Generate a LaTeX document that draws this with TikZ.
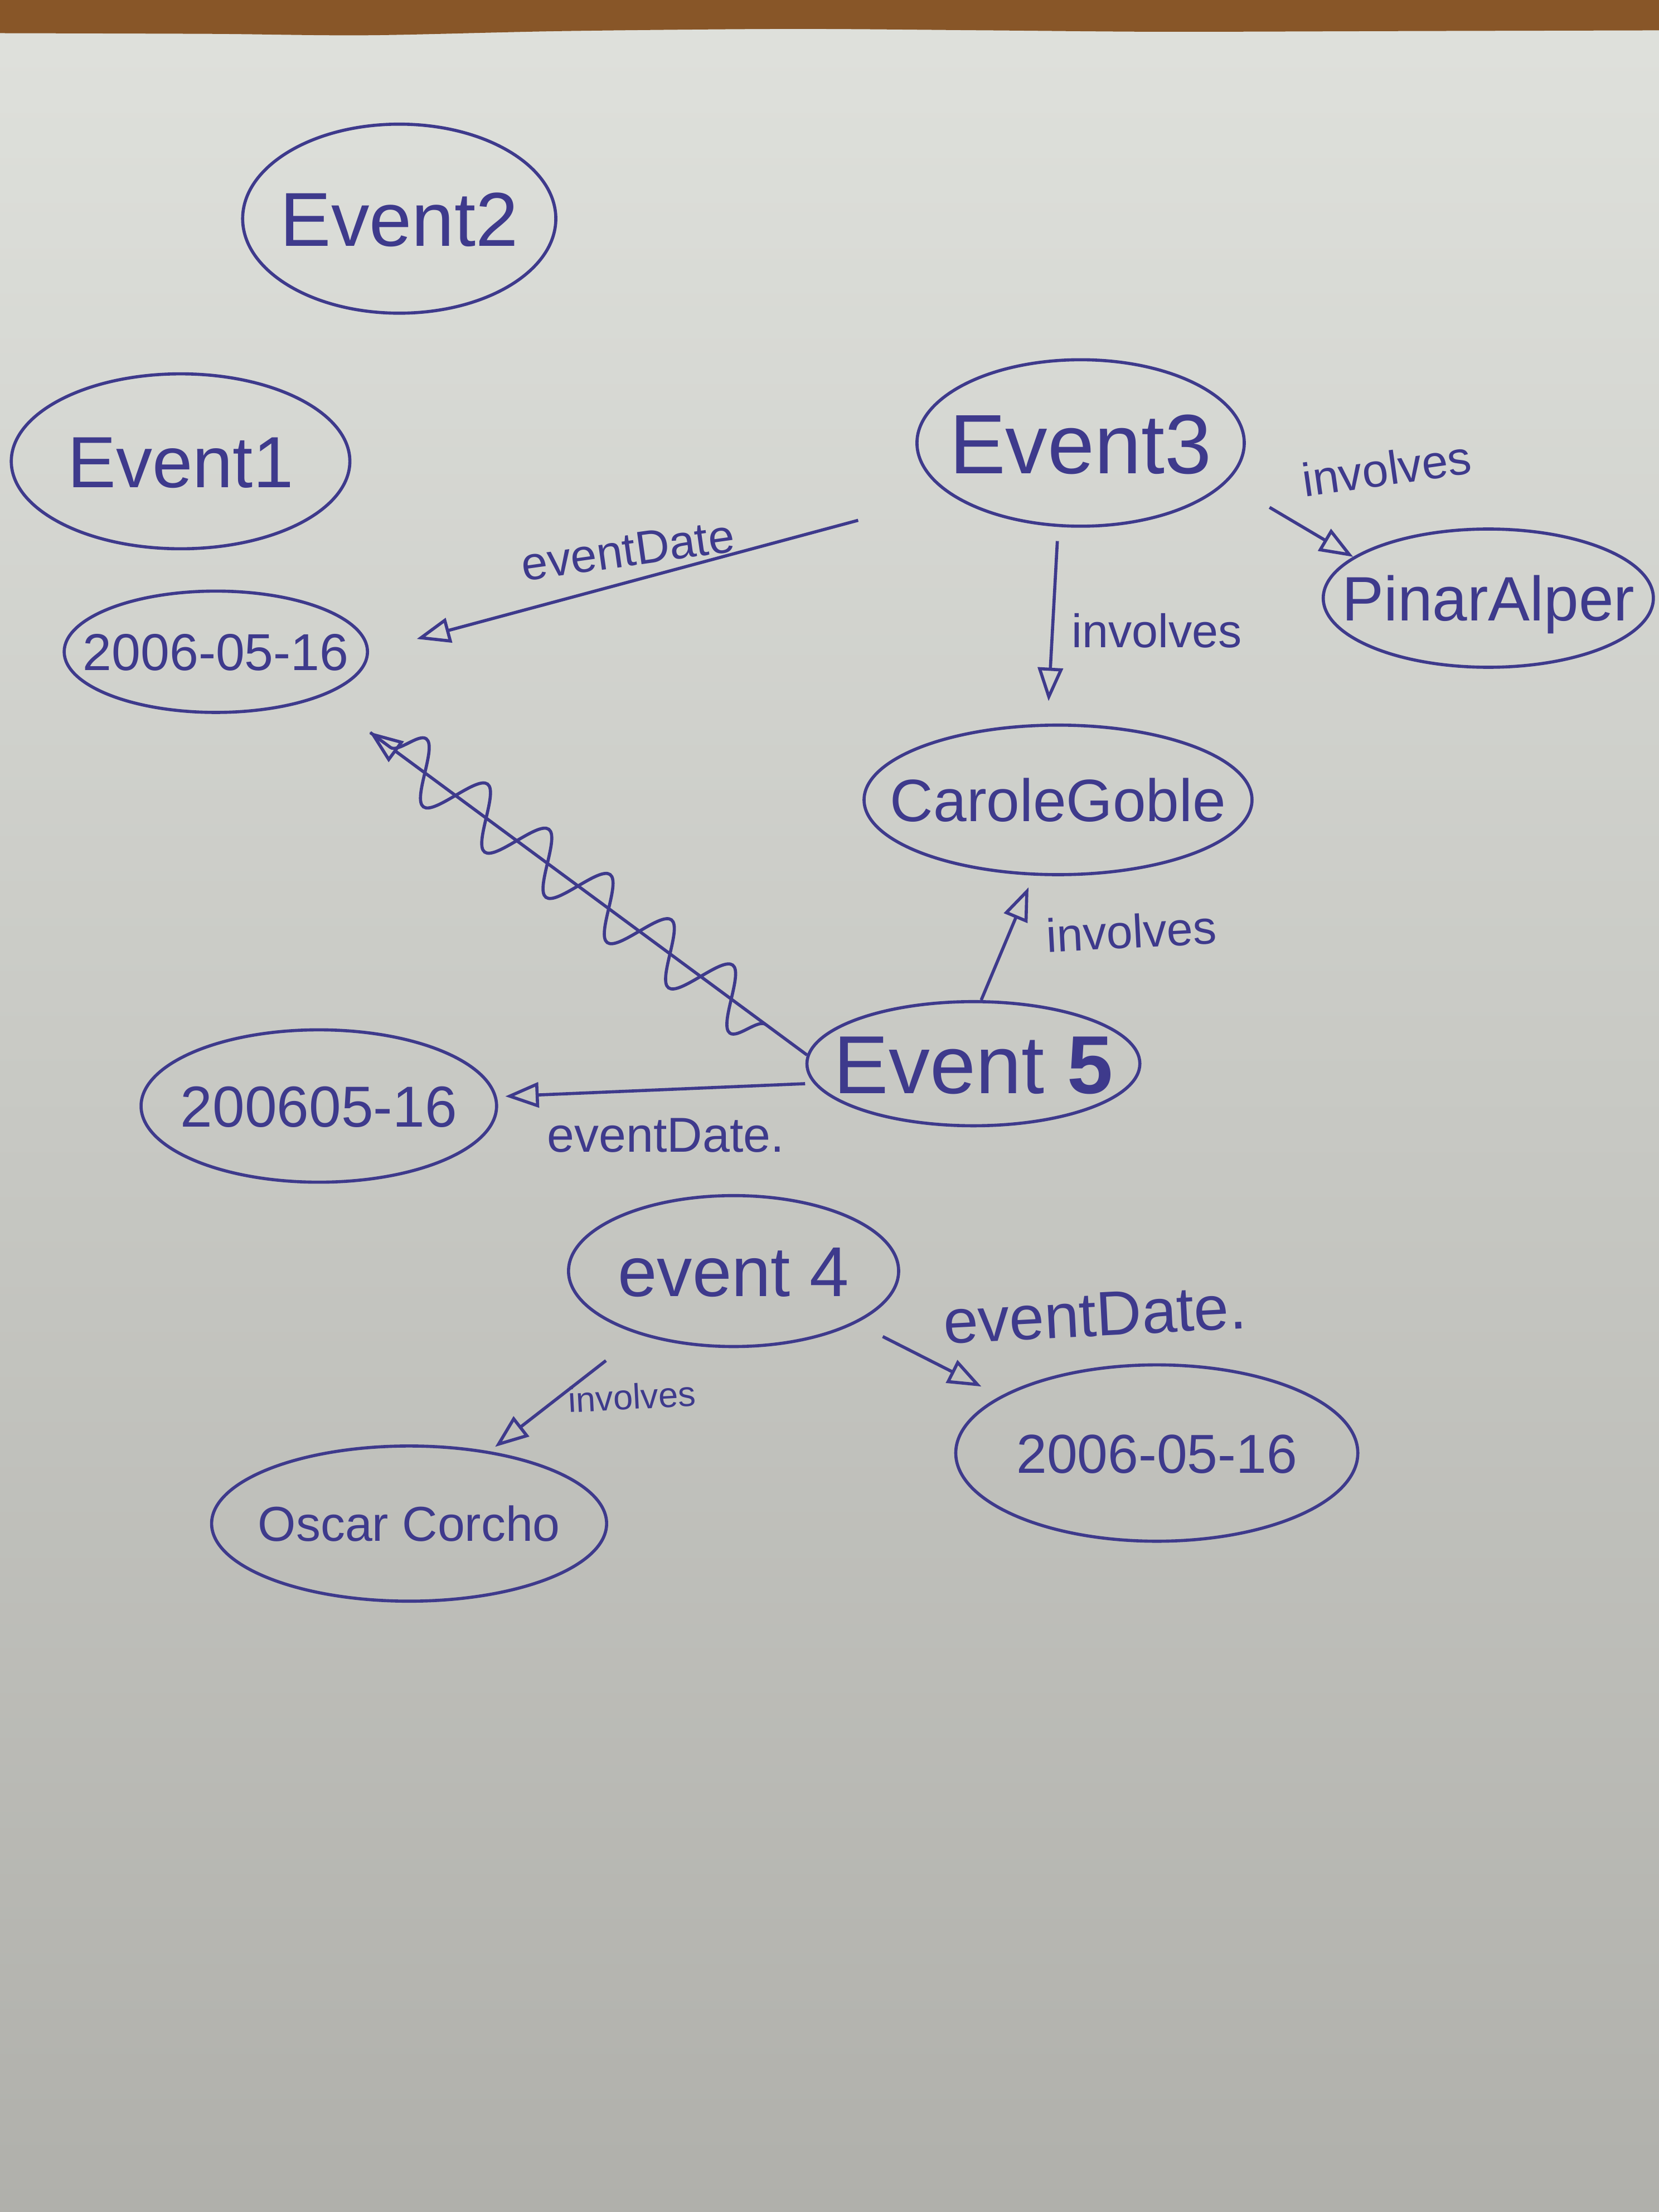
\documentclass[tikz,border=0pt]{standalone}
\usepackage{fontspec}
\setmainfont{Liberation Sans}
\usetikzlibrary{shapes.geometric,arrows.meta,decorations.pathmorphing,calc}
\definecolor{ink}{RGB}{62,58,140}
\definecolor{paperTop}{RGB}{223,225,220}
\definecolor{paperMid}{RGB}{212,211,207}
\definecolor{paperBot}{RGB}{176,176,171}
\definecolor{wood}{RGB}{136,86,40}
\def\U{0.025306cm}
\newcommand\mytxt[1]{\makebox[0pt]{\raisebox{-0.36em}[0pt][0pt]{#1}}}
\newcommand\fs[1]{\fontsize{#1}{#1}\selectfont}
\begin{document}
\begin{tikzpicture}[x=0.025306cm, y=-0.025306cm,
  every node/.style={text=ink},
  blob/.style={ellipse, draw=ink, line width=1.6pt, inner sep=0pt},
  lbl/.style={inner sep=0pt},
  arr/.style={draw=ink, line width=1.6pt, -{Triangle[open, length=0.6cm, width=0.45cm]}},
  wavy/.style={draw=ink, line width=1.6pt, decorate, decoration={snake, amplitude=20*\U, segment length=54*\U}}
]
\useasboundingbox (0,0) rectangle (1176,1568);
% paper and table edge
\shade[top color=paperTop, middle color=paperMid, bottom color=paperBot] (0,0) rectangle (1176,1568);
\fill[wood] (0,0) -- (1176,0) -- plot[smooth] coordinates {(1176,21.5) (1000,22) (825,22.5) (700,21.5) (560,20.5) (400,22) (260,25) (150,24) (0,23.5)} -- cycle;

% nodes
\node[blob, minimum width=222*\U, minimum height=134*\U, font=\fs{39pt}] (ev2) at (283,155) {\mytxt{Event2}};
\node[blob, minimum width=240*\U, minimum height=124*\U, font=\fs{37pt}] (ev1) at (128,327) {\mytxt{Event1}};
\node[blob, minimum width=215*\U, minimum height=86*\U, font=\fs{26.5pt}] (d1) at (153,462) {\mytxt{2006-05-16}};
\node[blob, minimum width=232*\U, minimum height=118*\U, font=\fs{43pt}] (ev3) at (766,314) {\mytxt{Event3}};
\node[blob, minimum width=234*\U, minimum height=98*\U, font=\fs{32pt}] (pa) at (1055,424) {\mytxt{PinarAlper}};
\node[blob, minimum width=275*\U, minimum height=106*\U, font=\fs{30.5pt}] (cg) at (750,567) {\mytxt{CaroleGoble}};
\node[blob, minimum width=236*\U, minimum height=88*\U, font=\fs{42pt}] (ev5) at (690,754) {\mytxt{Event \textbf{5}}};
\node[blob, minimum width=252*\U, minimum height=108*\U, font=\fs{29.5pt}] (d2) at (226,784) {\mytxt{200605-16}};
\node[blob, minimum width=234*\U, minimum height=107*\U, font=\fs{36pt}] (ev4) at (520,901) {\mytxt{event 4}};
\node[blob, minimum width=280*\U, minimum height=110*\U, font=\fs{25pt}] (oc) at (290,1080) {\mytxt{Oscar Corcho}};
\node[blob, minimum width=285*\U, minimum height=125*\U, font=\fs{28pt}] (d3) at (820,1030) {\mytxt{2006-05-16}};

% connectors
\draw[arr, shorten <=68*\U, shorten >=35*\U] (ev3.202) -- (d1.east);
\draw[arr, shorten <=10*\U, shorten >=16*\U] (ev3.255) -- (cg.98);
\draw[arr, shorten <=35*\U] (ev3.345) -- (pa.163);
\draw[arr, shorten >=9*\U] (ev5.83) -- (cg.252);
\draw[arr, shorten <=6*\U, shorten >=6*\U] (ev5.187) -- (d2.3);
\draw[arr, shorten >=42*\U] (ev5.177) -- (d1.337);
\draw[wavy] ($(ev5.177)!0.085!(d1.337)$) -- ($(d1.337)!0.1!(ev5.177)$);
\draw[arr, shorten <=30*\U, shorten >=5*\U] (ev4.214) -- (oc.42);
\draw[arr, shorten <=21*\U, shorten >=15*\U] (ev4.337) -- (d3.160);

% labels
\node[lbl, font=\fs{24pt}, rotate=8] (l1) at (445,390) {eventDate};
\node[lbl, font=\fs{24pt}] (l2) at (820,447) {involves};
\node[lbl, font=\fs{24pt}, rotate=8] (l3) at (983,332) {involves};
\node[lbl, font=\fs{24pt}, rotate=3] (l4) at (802,660) {involves};
\node[lbl, font=\fs{25pt}] (l5) at (472,805) {eventDate.};
\node[lbl, font=\fs{18pt}, rotate=3] (l6) at (448,990) {involves};
\node[lbl, font=\fs{32pt}, rotate=3] (l7) at (776,932) {eventDate.};
\end{tikzpicture}
\end{document}
